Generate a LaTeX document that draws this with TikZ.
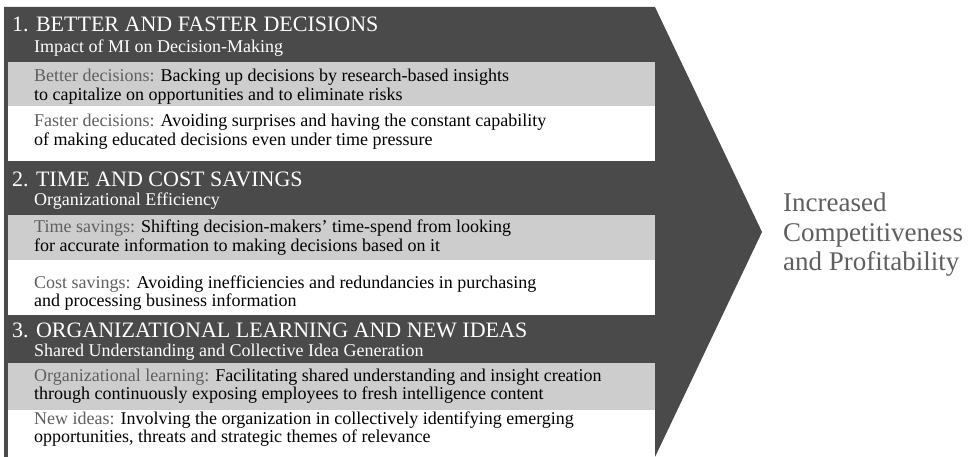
\documentclass[tikz,border=0pt]{standalone}
\usepackage{fontspec}
\setmainfont{Liberation Serif}
\usetikzlibrary{positioning}
\definecolor{darkgrey}{RGB}{74,74,74}
\definecolor{lightgrey}{RGB}{205,205,205}
\definecolor{labelgrey}{RGB}{95,95,95}
\newcommand{\itemlab}[1]{\textcolor{labelgrey}{#1}}
\newcommand{\rowtext}[1]{\parbox[t]{620pt}{#1}}

\begin{document}
\begin{tikzpicture}
  [x=1pt,y=-1pt,
   headT/.style={anchor=base west,inner sep=0pt,text=white,font=\fontsize{22}{24}\selectfont},
   subT/.style={anchor=base west,inner sep=0pt,text=white,font=\fontsize{18}{19}\selectfont},
   rowT/.style={anchor=base west,inner sep=0pt,font=\fontsize{18}{18.5}\selectfont},
   resultT/.style={anchor=west,inner sep=0pt,align=left,text=labelgrey,font=\fontsize{27}{29.5}\selectfont}]

  \useasboundingbox (0,0) rectangle (974,457);

  % the big arrow
  \fill[darkgrey] (4,7) -- (655,7) -- (762,232) -- (655,457) -- (4,457) -- cycle;

  % grey and white rows
  \fill[lightgrey] (8,62) rectangle (655,106);
  \fill[white]     (8,106) rectangle (655,161);
  \fill[lightgrey] (8,215) rectangle (655,260);
  \fill[white]     (8,260) rectangle (655,315);
  \fill[lightgrey] (8,363) rectangle (655,410);
  \fill[white]     (8,410) rectangle (655,457);

  % 1
  \node[headT] (h1) at (12,32) {1. BETTER AND FASTER DECISIONS};
  \node[subT] (s1) at (34,53) {Impact of MI on Decision-Making};
  \node[rowT] (r1a) at (34,82) {\rowtext{\itemlab{Better decisions:} Backing up decisions by research-based insights\\
    to capitalize on opportunities and to eliminate risks}};
  \node[rowT] (r1b) at (34,127) {\rowtext{\itemlab{Faster decisions:} Avoiding surprises and having the constant capability\\
    of making educated decisions even under time pressure}};

  % 2
  \node[headT] (h2) at (12,187) {2. TIME AND COST SAVINGS};
  \node[subT] (s2) at (34,206) {Organizational Efficiency};
  \node[rowT] (r2a) at (34,233) {\rowtext{\itemlab{Time savings:} Shifting decision-makers' time-spend from looking\\
    for accurate information to making decisions based on it}};
  \node[rowT] (r2b) at (34,288) {\rowtext{\itemlab{Cost savings:} Avoiding inefficiencies and redundancies in purchasing\\
    and processing business information}};

  % 3
  \node[headT] (h3) at (12,337) {3. ORGANIZATIONAL LEARNING AND NEW IDEAS};
  \node[subT] (s3) at (34,356) {Shared Understanding and Collective Idea Generation};
  \node[rowT] (r3a) at (34,381) {\rowtext{\itemlab{Organizational learning:} Facilitating shared understanding and insight creation\\
    through continuously exposing employees to fresh intelligence content}};
  \node[rowT] (r3b) at (34,424) {\rowtext{\itemlab{New ideas:} Involving the organization in collectively identifying emerging\\
    opportunities, threats and strategic themes of relevance}};

  \node[resultT] (res) at (783,235) {Increased\\Competitiveness\\and Profitability};

\end{tikzpicture}
\end{document}
